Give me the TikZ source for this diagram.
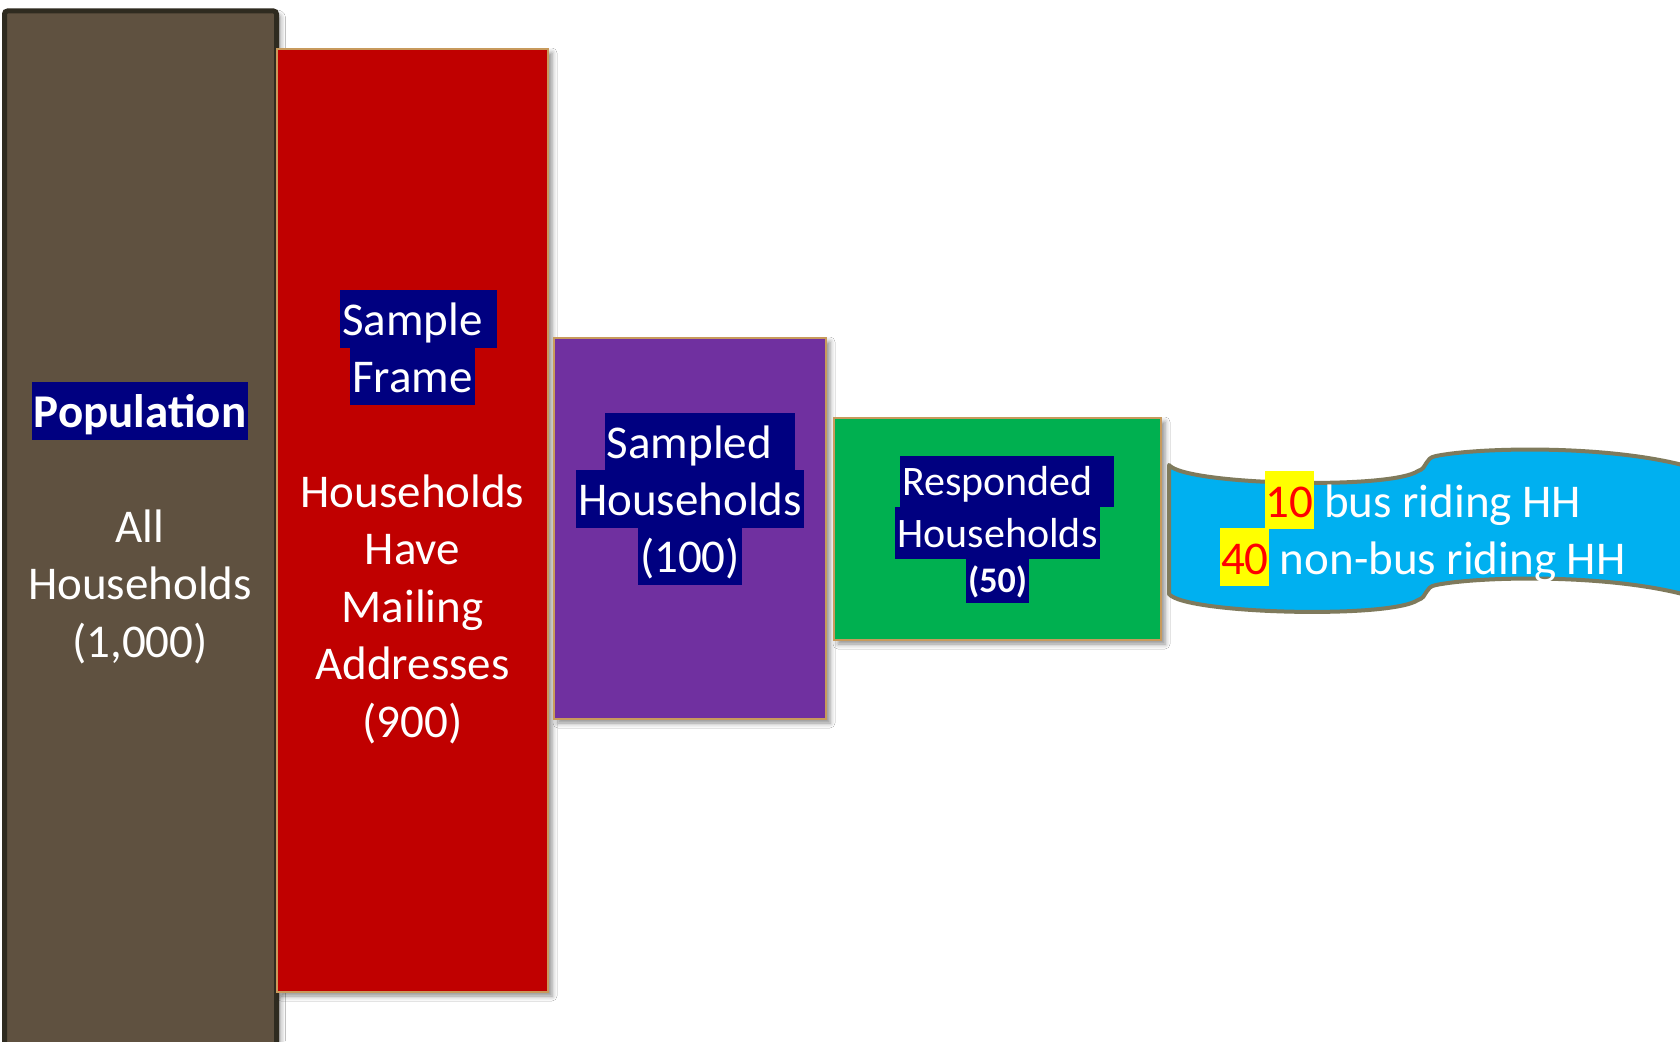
\documentclass[tikz,border=0pt]{standalone}
\usepackage{fontspec}
\setmainfont{Carlito}
\usetikzlibrary{shadows.blur}
\definecolor{popfill}{HTML}{5F5140}
\definecolor{popborder}{HTML}{2F2B20}
\definecolor{redfill}{HTML}{C00000}
\definecolor{tanline}{HTML}{C89A5C}
\definecolor{purplefill}{HTML}{7030A0}
\definecolor{greenfill}{HTML}{00B050}
\definecolor{bannerblue}{HTML}{00B0F0}
\definecolor{bannerline}{HTML}{7F7A5C}
\definecolor{hlnavy}{HTML}{000080}
\definecolor{numred}{HTML}{FF0000}
\definecolor{hlyellow}{HTML}{FFFF00}
\newcommand\ybox[1]{{\fboxsep=0pt\colorbox{hlyellow}{\kern0.6pt\rule[-12pt]{0pt}{58pt}\textcolor{numred}{#1}\kern0.6pt}}}
\newcommand\trail[1]{\rule{#1}{0pt}}
\begin{document}
\begin{tikzpicture}[x=1pt,y=-1pt,
  box/.style={draw=tanline, rectangle, inner sep=0pt, outer sep=0pt, line width=2pt,
    blur shadow={shadow xshift=4pt, shadow yshift=-4pt, shadow blur radius=5pt, shadow opacity=45}},
  bigfont/.style={font=\fontsize{47}{57.5}\selectfont},
  hlA/.style={bigfont, fill=hlnavy, text=white, inner xsep=2pt, inner ysep=0pt,
    text height=45pt, text depth=12.5pt, anchor=base},
  txA/.style={bigfont, text=white, inner sep=0pt, anchor=base},
  hlB/.style={font=\fontsize{42}{51.5}\selectfont, fill=hlnavy, text=white, inner xsep=2pt, inner ysep=0pt,
    text height=40pt, text depth=11.5pt, anchor=base},
  hlC/.style={font=\fontsize{36}{44}\selectfont\bfseries, fill=hlnavy, text=white, inner xsep=2pt, inner ysep=0pt,
    text height=34.5pt, text depth=10.5pt, anchor=base}]
\useasboundingbox (0,0) rectangle (1680,1041);
\clip (0,0) rectangle (1680,1041);
\fill[white] (0,0) rectangle (1680,1041);

% boxes
\node[box, fill=popfill, draw=popborder, line width=5pt, rounded corners=3pt,
  minimum width=272pt, minimum height=1050pt] (pop) at (140.5,536) {};
\node[box, fill=redfill, minimum width=271pt, minimum height=943pt] (frame) at (412.5,520.5) {};
\node[box, fill=purplefill, minimum width=272pt, minimum height=381pt] (sampled) at (690,528.5) {};
\node[box, fill=greenfill, minimum width=327pt, minimum height=222pt] (resp) at (997.5,529) {};

% banner
\draw[line width=4pt, draw=bannerline, fill=bannerblue, line join=round]
  (1169,465) .. controls (1185,485) and (1390,490) .. (1418,471)
  .. controls (1428,468) and (1424,458) .. (1436,456)
  .. controls (1480,447) and (1620,444) .. (1700,470)
  -- (1700,599)
  .. controls (1620,573) and (1480,576) .. (1436,585)
  .. controls (1424,587) and (1428,597) .. (1418,600)
  .. controls (1390,619) and (1185,614) .. (1169,594) -- cycle;

% population texts
\node[hlA, font=\fontsize{47}{57.5}\selectfont\bfseries] (popT) at (140,427) {Population};
\node[txA] (popL1) at (140,542) {All};
\node[txA] (popL2) at (140,599.5) {Households};
\node[txA] (popL3) at (140,657) {(1,000)};

% sample frame texts
\node[hlA] (frT1) at (418.5,335) {Sample\trail{12pt}};
\node[hlA] (frT2) at (412.5,392.5) {Frame};
\node[txA] (frL1) at (412.5,507) {Households};
\node[txA] (frL2) at (412.5,564.5) {Have};
\node[txA] (frL3) at (412.5,622) {Mailing};
\node[txA] (frL4) at (412.5,679.5) {Addresses};
\node[txA] (frL5) at (412.5,737) {(900)};

% sampled texts
\node[hlA] (smT1) at (700,458) {Sampled\trail{21pt}};
\node[hlA] (smT2) at (690,515) {Households};
\node[hlA] (smT3) at (690,572.5) {(100)};

% responded texts
\node[hlB] (rsT1) at (1007,495.5) {Responded\trail{19pt}};
\node[hlB] (rsT2) at (997.5,547) {Households};
\node[hlC] (rsT3) at (997.5,592.5) {(50)};

% banner texts
\node[txA] (bnL1) at (1423,517) {\ybox{10} bus riding HH};
\node[txA] (bnL2) at (1423,574) {\ybox{40} non-bus riding HH};
\end{tikzpicture}
\end{document}
